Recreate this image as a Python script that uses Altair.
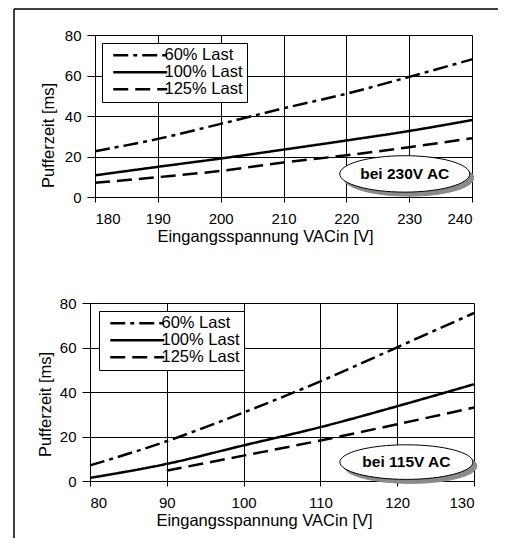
import altair as alt
import pandas as pd

FONT = "Liberation Sans"

# ---------------- data ----------------
series = ["60% Last", "100% Last", "125% Last"]

# 230 V panel
v230 = [180, 190, 200, 210, 220, 230, 240]
t230_60 = [22.6, 28.7, 36.1, 43.8, 51.0, 59.3, 68.0]
t230_100 = [10.7, 14.9, 19.0, 23.4, 27.9, 32.6, 38.0]
t230_125 = [7.0, 9.8, 12.9, 17.0, 20.6, 24.6, 29.0]

# 115 V panel
v115 = [80, 90, 100, 110, 120, 130]
t115_60 = [7.0, 17.9, 30.8, 44.8, 60.1, 75.5]
t115_100 = [1.4, 7.7, 16.0, 24.2, 33.6, 43.5]
v115_125 = [90, 100, 110, 120, 130]
t115_125 = [4.7, 11.4, 18.2, 25.5, 33.0]

x_ticks_230 = [180, 190, 200, 210, 220, 230, 240]
x_ticks_115 = [80, 90, 100, 110, 120, 130]
y_ticks = [0, 20, 40, 60, 80]

ann_230 = {"V": [229.3], "t": [11.4], "label": ["bei 230V AC"]}
ann_115 = {"V": [121.2], "t": [8.5], "label": ["bei 115V AC"]}

x_title = "Eingangsspannung VACin [V]"
y_title = "Pufferzeit [ms]"

# ---------------- styles ----------------
dash_range = [[15, 5, 4, 5], [1, 0], [15, 7]]


def long_df(xs_list, ys_list):
    rows = []
    for name, xs, ys in zip(series, xs_list, ys_list):
        for xv, yv in zip(xs, ys):
            rows.append({"V": xv, "t": yv, "Last": name})
    return pd.DataFrame(rows)


def ellipse_path(k):
    c = 0.5523
    ck = round(c * k, 4)
    return (f"M-1,0C-1,{-ck} {-c},{-k} 0,{-k}C{c},{-k} 1,{-ck} 1,0"
            f"C1,{ck} {c},{k} 0,{k}C{-c},{k} -1,{ck} -1,0Z")


legend_symbol = "M-1.6,0L9.2,0"


def panel(df, ann, xdom, xticks, w, h, inset, legx, legy, title_x, title_y, ytitle_x,
          ell_rx, ell_k, frame=None):
    xs = alt.Scale(domain=xdom, nice=False, zero=False, range=[inset, w])
    ys = alt.Scale(domain=[0, 80], nice=False)
    x_enc = alt.X("V:Q", scale=xs, axis=alt.Axis(
        values=xticks, title=x_title, grid=True, tickSize=5, labelPadding=9,
        titleX=title_x, titleY=44, titleAlign="center", titleBaseline="alphabetic"))
    y_enc = alt.Y("t:Q", scale=ys, axis=alt.Axis(
        values=y_ticks, title=y_title, grid=True, tickSize=8, labelPadding=6,
        offset=-inset,
        titleX=ytitle_x, titleY=title_y, titleAngle=270, titleAlign="center",
        titleBaseline="alphabetic"))

    lines = alt.Chart(df).mark_line(color="black", strokeWidth=2.5, interpolate="monotone").encode(
        x=x_enc, y=y_enc,
        strokeDash=alt.StrokeDash("Last:N", sort=series,
            scale=alt.Scale(domain=series, range=dash_range),
            legend=alt.Legend(
                orient="none", legendX=legx, legendY=legy, title=None,
                strokeColor="black", fillColor="white", padding=4,
                symbolType=legend_symbol, symbolSize=100, symbolStrokeWidth=2.5,
                symbolStrokeColor="black", symbolOffset=7, labelOffset=35,
                labelFont=FONT, labelFontSize=16.5, labelColor="black",
                rowPadding=-2)),
    )

    adf = pd.DataFrame(ann)
    size = (2 * ell_rx) ** 2
    shape = ellipse_path(ell_k)
    shadow = alt.Chart(adf).mark_point(shape=shape, size=size, filled=True, fill="#8a8a8a",
                                       stroke="#8a8a8a", strokeWidth=1, opacity=1,
                                       xOffset=4, yOffset=4).encode(
        x=alt.X("V:Q", scale=xs), y=alt.Y("t:Q", scale=ys))
    ell = alt.Chart(adf).mark_point(shape=shape, size=size, filled=True, fill="white",
                                    stroke="black", strokeWidth=1, opacity=1).encode(
        x=alt.X("V:Q", scale=xs), y=alt.Y("t:Q", scale=ys))
    txt = alt.Chart(adf).mark_text(font=FONT, fontSize=15.5, fontWeight="bold", color="black",
                                   align="center", baseline="middle").encode(
        x=alt.X("V:Q", scale=xs), y=alt.Y("t:Q", scale=ys), text="label:N")

    layers = [lines, shadow, ell, txt]
    if frame is not None:
        left, topy, bottomy, right = frame
        one = pd.DataFrame({"a": [0]})
        vrule = alt.Chart(one).mark_rule(color="black", strokeWidth=1.5).encode(
            x=alt.value(left), y=alt.value(topy), y2=alt.value(bottomy))
        hrule = alt.Chart(one).mark_rule(color="black", strokeWidth=1.5).encode(
            x=alt.value(left), x2=alt.value(right), y=alt.value(topy))
        layers += [vrule, hrule]
    return alt.layer(*layers).properties(width=w, height=h)


df230 = long_df([v230, v230, v230], [t230_60, t230_100, t230_125])
df115 = long_df([v115, v115, v115_125], [t115_60, t115_100, t115_125])

top = panel(df230, ann_230, [180, 240], x_ticks_230, 382, 162, 5, 12, 8, 175, 100, -42,
            65, 0.28, frame=(-76, -26, 503, 408))
bottom = panel(df115, ann_115, [80, 130], x_ticks_115, 384, 178, 0, 9, 8, 174, 101, -40,
               66.5, 0.26)

chart = alt.vconcat(top, bottom, spacing=106, bounds="flush").resolve_scale(
    strokeDash="independent"
).resolve_legend(
    strokeDash="independent"
).properties(
    padding={"left": 5, "top": 0, "right": 0, "bottom": 0},
    background="white",
).configure_view(
    strokeOpacity=0
).configure_axis(
    domainColor="black", domainWidth=1, tickColor="black", tickWidth=1,
    gridColor="black", gridWidth=1, gridOpacity=1,
    labelColor="black", titleColor="black", labelFont=FONT, titleFont=FONT,
    labelFontSize=15, titleFontSize=16.5, titleFontWeight="normal",
)

chart.save("out.html", embed_options={"renderer": "svg", "actions": False})
